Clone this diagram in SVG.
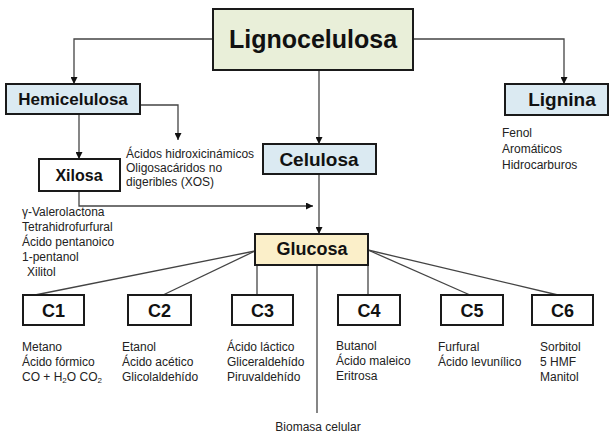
<svg xmlns="http://www.w3.org/2000/svg" width="610" height="433" viewBox="0 0 610 433">
<defs>
<style>
.box{stroke:#1a1a1a;stroke-width:2}
.h{font-family:"Liberation Sans",Arial,sans-serif;font-weight:bold;fill:#111;text-anchor:middle}
.t{font-family:"Liberation Sans",Arial,sans-serif;font-size:12px;fill:#222}
.c{fill:none;stroke:#444;stroke-width:1.3}
</style>
<marker id="arr" viewBox="0 0 10 10" refX="10" refY="5" markerWidth="7" markerHeight="7" markerUnits="userSpaceOnUse" orient="auto">
<path d="M0,0 L10,5 L0,10 z" fill="#111"/>
</marker>
</defs>
<rect width="610" height="433" fill="#fff"/>
<g id="connectors">
<path class="c" d="M213,39 H74 V84" marker-end="url(#arr)"/>
<path class="c" d="M413,39 H564 V84" marker-end="url(#arr)"/>
<path class="c" d="M319,70 V144" marker-end="url(#arr)"/>
<path class="c" d="M140,105 H178 V140" marker-end="url(#arr)"/>
<path class="c" d="M79,114 V159" marker-end="url(#arr)"/>
<path class="c" d="M79,191 V206 H313" marker-end="url(#arr)"/>
<path class="c" d="M319,174 V234" marker-end="url(#arr)"/>
<path class="c" d="M255,251 L35,295"/>
<path class="c" d="M255,251 L163,295"/>
<path class="c" d="M257,265 V295"/>
<path class="c" d="M368,265 V295"/>
<path class="c" d="M368,250 L470,295"/>
<path class="c" d="M368,250 L558,295"/>
<path class="c" d="M317,265 V413"/>
</g>
<g id="lignocelulosa">
<rect class="box" x="213" y="9" width="200" height="61" fill="#e9efd9"/>
<text class="h" x="313" y="48" font-size="25">Lignocelulosa</text>
</g>
<g id="hemicelulosa">
<rect class="box" x="6" y="84" width="134" height="30" fill="#dbeaf2"/>
<text class="h" x="73" y="105" font-size="17">Hemicelulosa</text>
</g>
<g id="lignina">
<rect class="box" x="505" y="84" width="103" height="31" fill="#dbeaf2"/>
<text class="h" x="562" y="106" font-size="19">Lignina</text>
<text class="t" x="502" y="137">Fenol</text>
<text class="t" x="502" y="153">Aromáticos</text>
<text class="t" x="502" y="169">Hidrocarburos</text>
</g>
<g id="celulosa">
<rect class="box" x="263" y="144" width="113" height="30" fill="#dbeaf2"/>
<text class="h" x="319" y="166" font-size="19">Celulosa</text>
</g>
<g id="acidos">
<text class="t" x="126" y="158">Ácidos hidroxicinámicos</text>
<text class="t" x="126" y="172">Oligosacáridos no</text>
<text class="t" x="126" y="186">digeribles (XOS)</text>
</g>
<g id="xilosa">
<rect class="box" x="39" y="159" width="81" height="32" fill="#fff"/>
<text class="h" x="79" y="181" font-size="16">Xilosa</text>
</g>
<g id="xilosa-productos">
<text class="t" x="22" y="216">γ-Valerolactona</text>
<text class="t" x="22" y="231">Tetrahidrofurfural</text>
<text class="t" x="22" y="246">Ácido pentanoico</text>
<text class="t" x="22" y="261">1-pentanol</text>
<text class="t" x="27" y="276">Xilitol</text>
</g>
<g id="glucosa">
<rect class="box" x="255" y="234" width="113" height="31" fill="#fbefc9"/>
<text class="h" x="312" y="255" font-size="18">Glucosa</text>
</g>
<g id="c1">
<rect class="box" x="23" y="295" width="61" height="30" fill="#fff"/>
<text class="h" x="53.5" y="317" font-size="18">C1</text>
<text class="t" x="22" y="351">Metano</text>
<text class="t" x="22" y="366">Ácido fórmico</text>
<text class="t" x="22" y="381">CO + H<tspan font-size="8" dy="2">2</tspan><tspan dy="-2">O CO</tspan><tspan font-size="8" dy="2">2</tspan></text>
</g>
<g id="c2">
<rect class="box" x="128" y="295" width="63" height="30" fill="#fff"/>
<text class="h" x="159.5" y="317" font-size="18">C2</text>
<text class="t" x="122" y="351">Etanol</text>
<text class="t" x="122" y="366">Ácido acético</text>
<text class="t" x="122" y="381">Glicolaldehído</text>
</g>
<g id="c3">
<rect class="box" x="232" y="295" width="61" height="30" fill="#fff"/>
<text class="h" x="262.5" y="317" font-size="18">C3</text>
<text class="t" x="227" y="351">Ácido láctico</text>
<text class="t" x="227" y="366">Gliceraldehído</text>
<text class="t" x="227" y="381">Piruvaldehído</text>
</g>
<g id="c4">
<rect class="box" x="338" y="295" width="62" height="30" fill="#fff"/>
<text class="h" x="369" y="317" font-size="18">C4</text>
<text class="t" x="336" y="350">Butanol</text>
<text class="t" x="336" y="365">Ácido maleico</text>
<text class="t" x="336" y="380">Eritrosa</text>
</g>
<g id="c5">
<rect class="box" x="441" y="295" width="62" height="30" fill="#fff"/>
<text class="h" x="472" y="317" font-size="18">C5</text>
<text class="t" x="438" y="351">Furfural</text>
<text class="t" x="438" y="366">Ácido levunílico</text>
</g>
<g id="c6">
<rect class="box" x="532" y="295" width="61" height="30" fill="#fff"/>
<text class="h" x="562.5" y="317" font-size="18">C6</text>
<text class="t" x="540" y="351">Sorbitol</text>
<text class="t" x="540" y="366">5 HMF</text>
<text class="t" x="540" y="381">Manitol</text>
</g>
<g id="biomasa">
<text class="t" x="318" y="431" text-anchor="middle">Biomasa celular</text>
</g>
</svg>
